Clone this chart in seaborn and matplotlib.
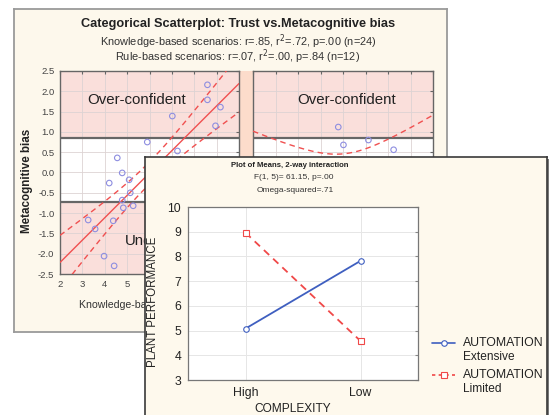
import numpy as np
import pandas as pd
import matplotlib
matplotlib.use("Agg")
import matplotlib.pyplot as plt
from matplotlib.patches import Rectangle
from matplotlib.lines import Line2D
import seaborn as sns

sns.set_style("white")
plt.rcParams['font.family'] = ['Liberation Sans', 'DejaVu Sans']
plt.rcParams['axes.unicode_minus'] = False

# ---------------- data ----------------
# Knowledge-based scenarios (last 4 points lie behind the front panel)
know_trust = [8.59, 8.59, 9.17, 8.95, 7.02, 7.25, 5.90, 4.56, 4.78, 4.20, 5.09, 5.14,
              4.78, 4.83, 5.27, 3.26, 4.38, 3.57, 3.97, 4.42, 6.2, 6.6, 7.0, 7.5]
know_bias = [2.16, 1.79, 1.61, 1.15, 1.39, 0.53, 0.75, 0.36, -0.01, -0.26, -0.18, -0.50,
             -0.68, -0.87, -0.82, -1.17, -1.19, -1.39, -2.06, -2.30, -0.3, -0.1, 0.0, 0.15]
# Rule-based scenarios (last 8 points lie behind the front panel)
rule_trust = [5.79, 6.02, 7.13, 8.25, 2.8, 3.5, 4.0, 4.6, 6.5, 7.5, 8.2, 7.7]
rule_bias = [1.12, 0.68, 0.80, 0.56, 0.2, -0.9, 0.1, -1.2, -0.6, -1.1, -0.6, 0.1]
t_know, t_rule = 2.074, 2.228
over_thr, under_thr = 0.85, -0.72
bias_ticks = [-2.5, -2.0, -1.5, -1.0, -0.5, 0.0, 0.5, 1.0, 1.5, 2.0, 2.5]
trust_ticks = [2, 3, 4, 5, 6, 7, 8, 9, 10]

complexity = ["High", "Low"]
automation = ["Extensive", "Limited"]
perf_extensive = [5.08, 7.82]
perf_limited = [8.96, 4.58]
perf_ticks = [3, 4, 5, 6, 7, 8, 9, 10]

W, H = 552, 415
fig = plt.figure(figsize=(W / 100, H / 100), dpi=100)
fig.patch.set_facecolor("white")


def px_rect(x0, y0, x1, y1):
    return [x0 / W, 1 - y1 / H, (x1 - x0) / W, (y1 - y0) / H]


def fx(x):
    return x / W


def fy(y):
    return 1 - y / H


# ---------------- back panel ----------------
bg1 = fig.add_axes(px_rect(14, 9, 447, 332))
bg1.set_facecolor("#fdf8ec")
bg1.set_xticks([]); bg1.set_yticks([])
for s in bg1.spines.values():
    s.set_color("#9a9a9a"); s.set_linewidth(1.3)
bg1.set_zorder(-2)

fig.text(fx(238), fy(24), "Categorical Scatterplot: Trust vs.Metacognitive bias",
         ha="center", va="center", fontsize=9.2, fontweight="bold", color="#222", zorder=2)
fig.text(fx(238), fy(42), "Knowledge-based scenarios: r=.85, r$^2$=.72, p=.00 (n=24)",
         ha="center", va="center", fontsize=7.9, color="#333", zorder=2)
fig.text(fx(238), fy(57), "Rule-based scenarios: r=.07, r$^2$=.00, p=.84 (n=12)",
         ha="center", va="center", fontsize=7.9, color="#333", zorder=2)
fig.text(fx(27), fy(181), "Metacognitive bias", rotation=90, ha="center", va="center",
         fontsize=8.4, fontweight="bold", color="#222", zorder=2)
fig.text(fx(79), fy(305), "Knowledge-based scenarios", ha="left", va="center",
         fontsize=7.6, color="#333", zorder=2)

fig.patches.append(Rectangle((fx(239), fy(274)), (253 - 239) / W, (274 - 71) / H,
                             transform=fig.transFigure, facecolor="#fcdccb",
                             edgecolor="none", zorder=0))


def fit_band(x, y, t):
    x = np.asarray(x); y = np.asarray(y)
    b, a = np.polyfit(x, y, 1)
    n = len(x)
    res = y - (a + b * x)
    s = np.sqrt(np.sum(res ** 2) / (n - 2))
    xg = np.linspace(trust_ticks[0], trust_ticks[-1], 200)
    yh = a + b * xg
    h = t * s * np.sqrt(1 / n + (xg - x.mean()) ** 2 / np.sum((x - x.mean()) ** 2))
    return xg, yh, yh - h, yh + h


def scatter_panel(ax, xs, ys, t, show_y, over_label, under_label, tx):
    ax.set_facecolor("white")
    ax.axhspan(over_thr, bias_ticks[-1], color="#fadfdb", zorder=0, lw=0)
    ax.axhspan(bias_ticks[0], under_thr, color="#fadfdb", zorder=0, lw=0)
    for v in trust_ticks:
        ax.axvline(v, color="#ddd3d3", lw=0.6, zorder=0.5)
    for v in bias_ticks:
        ax.axhline(v, color="#ddd3d3", lw=0.6, zorder=0.5)
    ax.axhline(over_thr, color="#666", lw=1.6, zorder=2)
    ax.axhline(under_thr, color="#666", lw=1.6, zorder=2)
    xg, yh, lo, hi = fit_band(xs, ys, t)
    sns.lineplot(x=xg, y=yh, ax=ax, color="#f05050", lw=1.0, zorder=3)
    sns.lineplot(x=xg, y=lo, ax=ax, color="#f05050", lw=1.0, zorder=3)
    sns.lineplot(x=xg, y=hi, ax=ax, color="#f05050", lw=1.0, zorder=3)
    ax.lines[-1].set_linestyle((0, (4, 3)))
    ax.lines[-2].set_linestyle((0, (4, 3)))
    sns.scatterplot(x=xs, y=ys, ax=ax, marker="o", s=16, facecolors="none",
                    edgecolor="#8e8ee0", linewidth=0.8, zorder=4)
    ax.set_xlim(trust_ticks[0], trust_ticks[-1])
    ax.set_ylim(bias_ticks[0], bias_ticks[-1])
    ax.set_xticks(trust_ticks)
    ax.set_yticks(bias_ticks)
    ax.set_yticklabels([f"{v:.1f}" for v in bias_ticks] if show_y else [])
    ax.tick_params(axis="both", direction="in", length=2, color="#666",
                   labelsize=6.8, labelcolor="#444", pad=4, right=True, top=True)
    for s in ax.spines.values():
        s.set_color("#666"); s.set_linewidth(1.0)
    ax.text(tx, 0.857, over_label, transform=ax.transAxes, ha="center", va="center",
            fontsize=10.8, color="#222", zorder=5)
    ax.text(0.66 if show_y else tx, 0.163, under_label, transform=ax.transAxes,
            ha="center", va="center", fontsize=10.8, color="#222", zorder=5)
    ax.set_xlabel(""); ax.set_ylabel("")


ax1 = fig.add_axes(px_rect(60, 71, 239, 274))
ax1.set_zorder(1)
scatter_panel(ax1, know_trust, know_bias, t_know, True,
              "Over-confident", "Under-confident", 0.43)

ax2 = fig.add_axes(px_rect(253, 71, 433, 274))
ax2.set_zorder(1)
scatter_panel(ax2, rule_trust, rule_bias, t_rule, False,
              "Over-confident", "Under-confident", 0.52)
ax2.set_xticklabels([])

# ---------------- front panel ----------------
fig.patches.append(Rectangle((fx(147), fy(425)), (548.5 - 147) / W, (425 - 159) / H,
                             transform=fig.transFigure, facecolor="#7a7a7a",
                             edgecolor="none", zorder=4.5))
bg2 = fig.add_axes(px_rect(145, 157, 547, 425))
bg2.set_facecolor("#fef9ed")
bg2.set_xticks([]); bg2.set_yticks([])
for s in bg2.spines.values():
    s.set_color("#3a3a3a"); s.set_linewidth(1.2)
bg2.set_zorder(5)

fig.text(fx(290), fy(165), "Plot of Means, 2-way interaction", ha="center", va="center",
         fontsize=5.6, fontweight="bold", color="#222", zorder=7)
fig.text(fx(294), fy(177), "F(1, 5)= 61.15, p=.00", ha="center", va="center",
         fontsize=6.0, color="#333", zorder=7)
fig.text(fx(295), fy(190), "Omega-squared=.71", ha="center", va="center",
         fontsize=6.0, color="#333", zorder=7)

ax3 = fig.add_axes(px_rect(188, 207, 418, 380))
ax3.set_zorder(6)
ax3.set_facecolor("white")
df = pd.DataFrame({
    "COMPLEXITY": complexity * 2,
    "PLANT PERFORMANCE": perf_extensive + perf_limited,
    "AUTOMATION": [automation[0]] * 2 + [automation[1]] * 2,
})
for v in perf_ticks:
    ax3.axhline(v, color="#e6e6e6", lw=0.7, zorder=0)
for i in range(len(complexity)):
    ax3.axvline(i, color="#e6e6e6", lw=0.7, zorder=0)
colors = ["#3f5fc0", "#f04848"]
sns.pointplot(data=df, x="COMPLEXITY", y="PLANT PERFORMANCE", hue="AUTOMATION",
              palette=colors, markers=["o", "s"],
              linestyles=["-", (0, (4, 3))], ax=ax3, errorbar=None,
              markersize=4, linewidth=1.3, legend=False)
for ln in ax3.lines:
    ln.set_markerfacecolor("white")
    ln.set_markeredgewidth(0.8)
ax3.set_xlim(-0.5, 1.5)
ax3.set_ylim(perf_ticks[0], perf_ticks[-1])
ax3.set_yticks(perf_ticks)
ax3.tick_params(axis="both", direction="in", length=2.5, color="#888",
                labelsize=8.8, labelcolor="#222", pad=5, right=True)
ax3.tick_params(axis="x", length=0)
for s in ax3.spines.values():
    s.set_color("#777"); s.set_linewidth(0.9)
ax3.set_xlabel("")
ax3.set_ylabel("")
fig.text(fx(153), fy(302), "PLANT PERFORMANCE", rotation=90, ha="center", va="center",
         fontsize=8.3, color="#222", zorder=7)
fig.text(fx(293), fy(409), "COMPLEXITY", ha="center", va="center",
         fontsize=8.6, color="#222", zorder=7)

# legend (handle aligned with the first line of each two-line label)
leg_y = [343, 375]
styles = [dict(ls="-", marker="o"), dict(ls=(0, (2, 2)), marker="s")]
for name, col, st, yy in zip(automation, colors, styles, leg_y):
    fig.add_artist(Line2D([fx(432), fx(455)], [fy(yy), fy(yy)], transform=fig.transFigure,
                          color=col, lw=1.2, ls=st["ls"], zorder=7))
    fig.add_artist(Line2D([fx(443.5)], [fy(yy)], transform=fig.transFigure, color=col,
                          marker=st["marker"], ms=4, markerfacecolor="white",
                          markeredgewidth=0.8, ls="none", zorder=7.5))
    fig.text(fx(463), fy(yy), "AUTOMATION", ha="left", va="center", fontsize=8.8,
             color="#222", zorder=7)
    fig.text(fx(463), fy(yy + 14), name, ha="left", va="center", fontsize=8.6,
             color="#222", zorder=7)

fig.savefig("out.png", dpi=100)
